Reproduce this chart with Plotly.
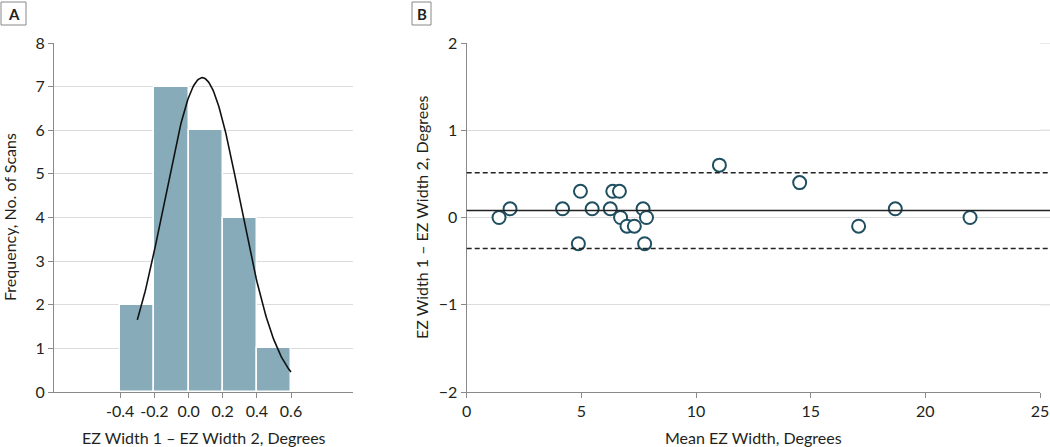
import numpy as np
import plotly.graph_objects as go

# ---------------- data ----------------
# Panel A: histogram of differences (bin edges / counts)
bin_left_edges = [-0.4, -0.2, 0.0, 0.2, 0.4]
bin_counts = [2, 7, 6, 4, 1]
bin_tick_labels = ["-0.4", "-0.2", "0.0", "0.2", "0.4", "0.6"]
bin_tick_vals = [-0.4, -0.2, 0.0, 0.2, 0.4, 0.6]

# Panel B: Bland-Altman points
mean_width = [1.41, 1.89, 4.18, 4.87, 4.96, 5.47, 6.26, 6.37, 6.66, 6.71,
              6.99, 7.31, 7.69, 7.76, 7.84, 11.02, 14.52, 17.09, 18.69, 21.95]
diff_width = [0.0, 0.1, 0.1, -0.3, 0.3, 0.1, 0.1, 0.3, 0.3, 0.0,
              -0.1, -0.1, 0.1, -0.3, 0.0, 0.6, 0.4, -0.1, 0.1, 0.0]

# ---------------- derived stats ----------------
d = np.array(diff_width)
bias = d.mean()
sd = d.std(ddof=1)
loa_hi = bias + 1.96 * sd
loa_lo = bias - 1.96 * sd
bin_width = 0.2
n = len(d)

curve_x = np.linspace(-0.3, 0.6, 200)
curve_y = n * bin_width / (sd * np.sqrt(2 * np.pi)) * np.exp(-0.5 * ((curve_x - bias) / sd) ** 2)

# ---------------- styling ----------------
FONT = "Lato"
TXT = "#231f20"
GRID = "#dcdcdc"
AXIS = "#8a8a8a"
BAR = "#87abb9"
MARK = "#1f4f60"

W, H = 1050, 447
def px(xp):
    return xp / W
def py(yp):
    return 1 - yp / H

fig = go.Figure()

fig.add_trace(go.Bar(
    x=[e + bin_width / 2 for e in bin_left_edges], y=bin_counts, width=bin_width,
    marker=dict(color=BAR, line=dict(color="white", width=1.5)),
    xaxis="x", yaxis="y", showlegend=False, hoverinfo="skip"))

fig.add_trace(go.Scatter(
    x=curve_x, y=curve_y, mode="lines", line=dict(color="#111", width=1.6),
    xaxis="x", yaxis="y", showlegend=False, hoverinfo="skip"))

fig.add_trace(go.Scatter(
    x=mean_width, y=diff_width, mode="markers",
    marker=dict(symbol="circle", size=13, color="white", line=dict(color=MARK, width=2)),
    xaxis="x2", yaxis="y2", showlegend=False))

ydom = [py(392), py(43)]
common_axis = dict(showline=True, linecolor=AXIS, linewidth=1.2, ticks="outside",
                   ticklen=5, tickcolor=AXIS, tickfont=dict(family=FONT, size=16, color=TXT),
                   zeroline=False, automargin=False)

fig.update_layout(
    autosize=True, margin=dict(l=0, r=0, t=0, b=0, autoexpand=False),
    paper_bgcolor="white", plot_bgcolor="white",
    font=dict(family=FONT, color=TXT),
    bargap=0,
    xaxis=dict(domain=[px(54), px(353)], range=[-0.788, 0.963], tickvals=bin_tick_vals,
               ticktext=bin_tick_labels, showgrid=False, anchor="y", **common_axis),
    yaxis=dict(domain=ydom, range=[0, 8], tickvals=list(range(0, 9)), showgrid=True,
               gridcolor=GRID, gridwidth=1.2, anchor="x", **common_axis),
    xaxis2=dict(domain=[px(466.7), px(1040)], range=[0, 25], tickvals=[0, 5, 10, 15, 20, 25],
                showgrid=False, anchor="y2", **common_axis),
    yaxis2=dict(domain=ydom, range=[-2, 2], tickvals=[-2, -1, 0, 1, 2], showgrid=True,
                gridcolor=GRID, gridwidth=1.2, anchor="x2", **common_axis),
)

# extend panel B gridlines to the right edge, as in the reference
for gv in (-1, 0, 1, 2):
    fig.add_shape(type="line", xref="paper", yref="y2", x0=px(1040), x1=1, y0=gv, y1=gv,
                  line=dict(color=GRID, width=1.2), layer="below")

# Agreement lines
fig.add_shape(type="line", xref="paper", yref="y2", x0=px(466.7), x1=1, y0=bias, y1=bias,
              line=dict(color="#222", width=1.5))
for v in (loa_hi, loa_lo):
    fig.add_shape(type="line", xref="paper", yref="y2", x0=px(466.7), x1=1, y0=v, y1=v,
                  line=dict(color="#222", width=1.5, dash="5px,3px"))

# Axis titles
fig.add_annotation(text="EZ Width 1 – EZ Width 2, Degrees", xref="paper", yref="paper",
                   x=px(204), y=py(437), xanchor="center", yanchor="middle", showarrow=False,
                   font=dict(family=FONT, size=16, color=TXT))
fig.add_annotation(text="Frequency, No. of Scans", xref="paper", yref="paper",
                   x=px(9), y=py(217), xanchor="center", yanchor="middle", showarrow=False,
                   textangle=-90, font=dict(family=FONT, size=16, color=TXT))
fig.add_annotation(text="Mean EZ Width, Degrees", xref="paper", yref="paper",
                   x=px(753), y=py(437), xanchor="center", yanchor="middle", showarrow=False,
                   font=dict(family=FONT, size=16, color=TXT))
fig.add_annotation(text="EZ Width 1 – EZ Width 2, Degrees", xref="paper", yref="paper",
                   x=px(421), y=py(217), xanchor="center", yanchor="middle", showarrow=False,
                   textangle=-90, font=dict(family=FONT, size=16, color=TXT))

# Panel letters (boxed)
for letter, x0, x1 in (("A", 1, 26), ("B", 412, 431)):
    fig.add_shape(type="rect", xref="paper", yref="paper", x0=px(x0), x1=px(x1),
                  y0=py(25), y1=py(2), line=dict(color="#888", width=1), fillcolor="white")
    fig.add_annotation(text="<b>%s</b>" % letter, xref="paper", yref="paper",
                       x=px((x0 + x1) / 2), y=py(13.5), xanchor="center", yanchor="middle",
                       showarrow=False, font=dict(family=FONT, size=15, color=TXT))

post = ("document.documentElement.style.margin='0';document.documentElement.style.padding='0';"
        "document.documentElement.style.overflow='hidden';"
        "document.body.style.margin='0';document.body.style.padding='0';"
        "document.body.style.overflow='hidden';"
        "var gd=document.getElementById('{plot_id}');gd.style.width='100vw';gd.style.height='100vh';"
        "Plotly.Plots.resize(gd);")

fig.write_html("out.html", default_width="100vw", default_height="100vh",
               config={"displayModeBar": False, "responsive": True},
               post_script=post)
